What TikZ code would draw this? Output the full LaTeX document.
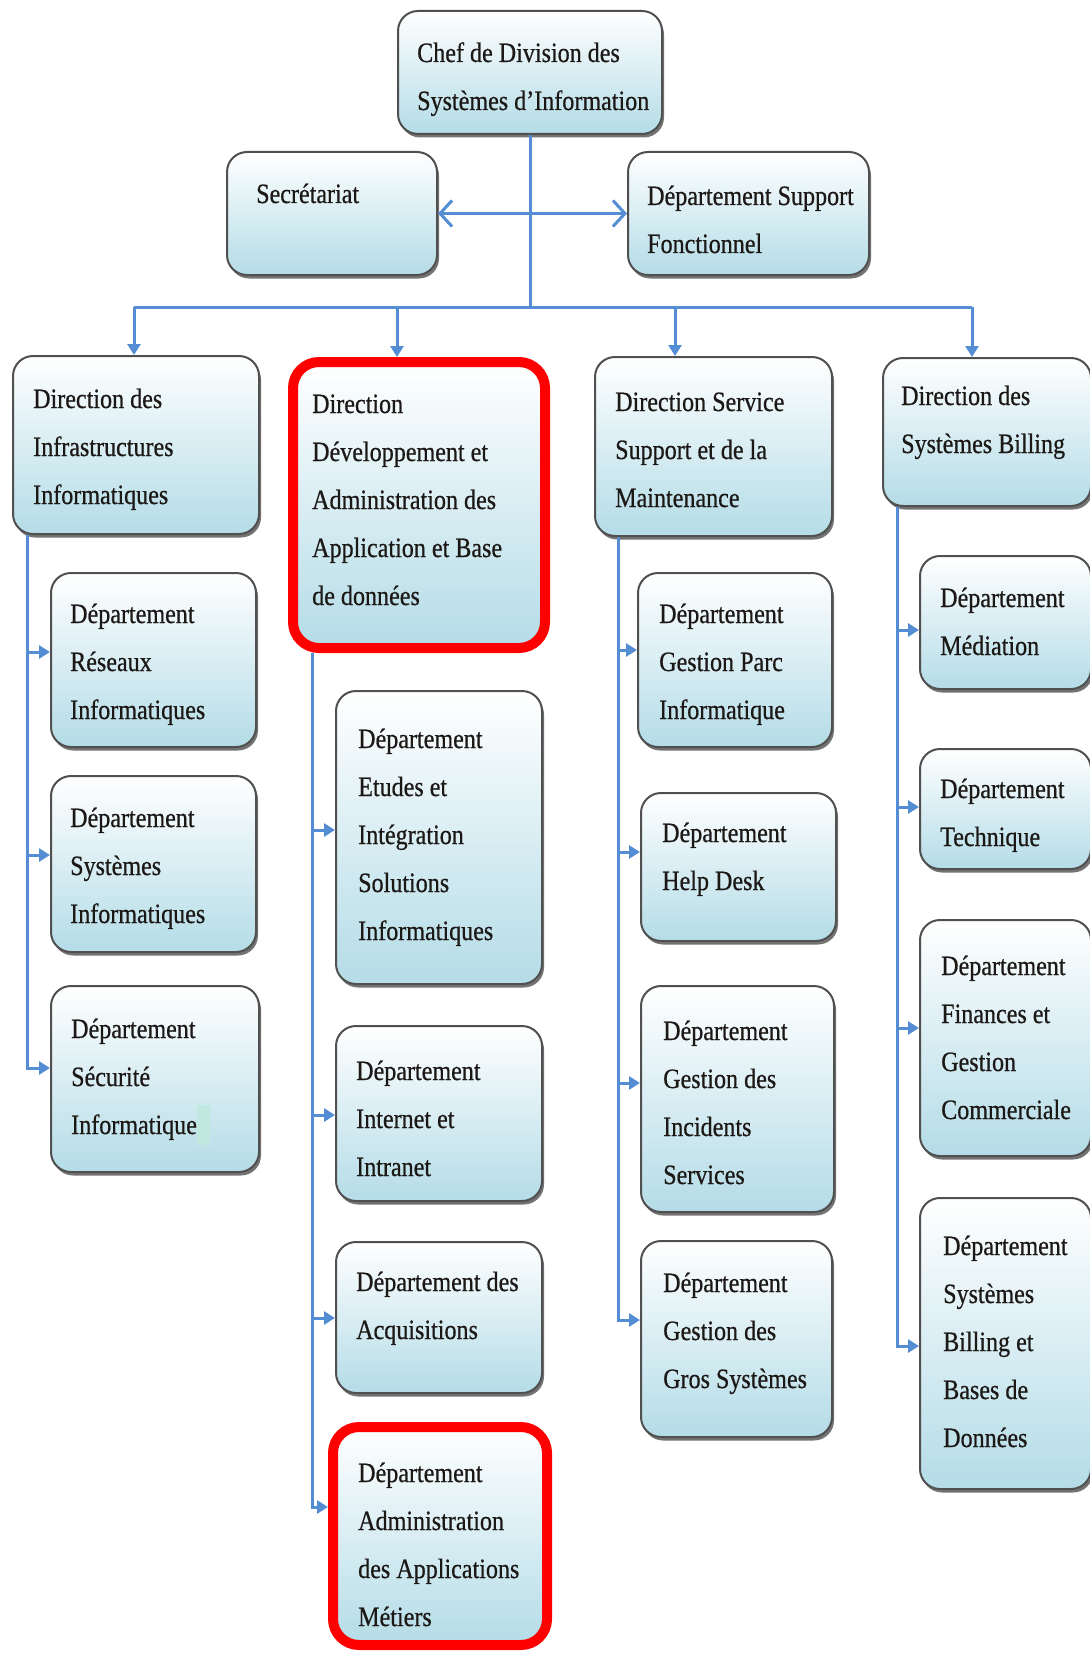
\documentclass[tikz,border=0pt]{standalone}
\usepackage{fontspec}
\setmainfont{Liberation Serif}[FakeStretch=0.86,FakeBold=0.6]
\usetikzlibrary{arrows.meta,shadows,calc}

\definecolor{linkblue}{RGB}{84,141,212}
\definecolor{boxblue}{RGB}{180,220,231}
\definecolor{boxedge}{RGB}{80,80,80}
\definecolor{hilite}{RGB}{192,232,222}
\definecolor{ink}{RGB}{28,24,22}

\tikzset{
  orgbox/.style={rectangle, rounded corners=20pt, draw=boxedge, line width=2pt,
    top color=white, bottom color=boxblue, inner sep=0pt,
    drop shadow={shadow xshift=2pt, shadow yshift=-3.5pt, opacity=.55, fill=black}},
  keybox/.style={orgbox, draw=red, line width=10pt, rounded corners=26pt},
  boxtext/.style={inner sep=0pt, anchor=base west, text=ink, font=\fontsize{28pt}{48pt}\selectfont},
  wire/.style={draw=linkblue, line width=3pt},
  feed/.style={wire, -{Triangle[length=11pt,width=13pt]}},
  barb/.style={wire, {Straight Barb[length=12pt,width=26pt,line width=3pt]}-{Straight Barb[length=12pt,width=26pt,line width=3pt]}}
}

% #1 style, #2 name, #3 x, #4 y (outer top-left), #5 width, #6 height, #7 text offset, #8 text
\newcommand\orgunit[8]{%
  \node[#1, minimum width=#5pt, minimum height=#6pt, anchor=north west] (#2) at (#3,#4) {};
  \node[boxtext] (#2-t) at ($(#2.north west)+(#7)$) {\parbox[t]{320pt}{\raggedright #8}};
}

\begin{document}
\begin{tikzpicture}[x=1pt,y=-1pt]
\useasboundingbox (0,0) rectangle (1089,1653);
\fill[white] (0,0) rectangle (1089,1653);

% top level
\orgunit{orgbox}{chef}{397}{10}{264}{123}{20,52}{Chef de Division des\\Systèmes d’Information}
\orgunit{orgbox}{secr}{226}{151}{210}{123}{30,52}{Secrétariat}
\orgunit{orgbox}{supp}{627}{151}{241}{123}{20,54}{Département Support\\Fonctionnel}

% directions
\orgunit{orgbox}{infra}{12}{355}{246}{178}{21,53}{Direction des\\Infrastructures\\Informatiques}
\orgunit{keybox}{devadm}{288}{357}{252}{286}{24,56}{Direction\\Développement et\\Administration des\\Application et Base\\de données}
\orgunit{orgbox}{servsup}{594}{356}{237}{179}{21,55}{Direction Service\\Support et de la\\Maintenance}
\orgunit{orgbox}{billing}{882}{357}{208}{148}{19,48}{Direction des\\Systèmes Billing}

% departments under infrastructures
\orgunit{orgbox}{reseaux}{50}{572}{205}{174}{20,51}{Département\\Réseaux\\Informatiques}
\orgunit{orgbox}{sysinfo}{50}{775}{205}{176}{20,52}{Département\\Systèmes\\Informatiques}
\orgunit{orgbox}{secu}{50}{985}{208}{186}{21,53}{Département\\Sécurité\\Informatique}
\fill[hilite] (197,1105) rectangle (210,1145);

% departments under development and administration
\orgunit{orgbox}{etudes}{335}{690}{206}{293}{23,58}{Département\\Etudes et\\Intégration\\Solutions\\Informatiques}
\orgunit{orgbox}{internet}{335}{1025}{206}{175}{21,55}{Département\\Internet et\\Intranet}
\orgunit{orgbox}{acq}{335}{1241}{206}{151}{21,50}{Département des\\Acquisitions}
\orgunit{keybox}{metiers}{328}{1422}{214}{218}{30,60}{Département\\Administration\\des Applications\\Métiers}

% departments under service support
\orgunit{orgbox}{parc}{637}{572}{194}{174}{22,51}{Département\\Gestion Parc\\Informatique}
\orgunit{orgbox}{helpdesk}{640}{792}{195}{148}{22,50}{Département\\Help Desk}
\orgunit{orgbox}{incidents}{640}{985}{193}{226}{23,55}{Département\\Gestion des\\Incidents\\Services}
\orgunit{orgbox}{gros}{640}{1240}{191}{196}{23,52}{Département\\Gestion des\\Gros Systèmes}

% departments under billing
\orgunit{orgbox}{mediation}{919}{555}{171}{133}{21,52}{Département\\Médiation}
\orgunit{orgbox}{technique}{919}{748}{171}{120}{21,50}{Département\\Technique}
\orgunit{orgbox}{finances}{919}{919}{171}{236}{22,56}{Département\\Finances et\\Gestion\\Commerciale}
\orgunit{orgbox}{sysbill}{919}{1197}{171}{291}{24,58}{Département\\Systèmes\\Billing et\\Bases de\\Données}

% top connectors
\coordinate (hub) at (chef.south |- 0,307);
\draw[wire] (chef.south) -- (hub);
\draw[barb] (secr.east) -- (supp.west);

\coordinate (busA) at (134,307);
\coordinate (busB) at (397,307);
\coordinate (busC) at (675,307);
\coordinate (busD) at (972,307);
\draw[wire] (busA) -- (busD);
\draw[feed] (busA) -- (busA |- infra.north);
\draw[feed] (busB) -- (busB |- devadm.north);
\draw[feed] (busC) -- (busC |- servsup.north);
\draw[feed] (busD) -- (busD |- billing.north);

% side trunks
\coordinate (trunkA) at (infra.south -| 27,0);
\draw[feed] (trunkA) |- (reseaux.west |- 0,652);
\draw[feed] (trunkA) |- (sysinfo.west |- 0,855);
\draw[feed] (trunkA) |- (secu.west |- 0,1068);

\coordinate (trunkB) at (devadm.south -| 312,0);
\draw[feed] (trunkB) |- (etudes.west |- 0,830);
\draw[feed] (trunkB) |- (internet.west |- 0,1115);
\draw[feed] (trunkB) |- (acq.west |- 0,1318);
\draw[feed] (trunkB) |- (metiers.west |- 0,1507);

\coordinate (trunkC) at (servsup.south -| 618,0);
\draw[feed] (trunkC) |- (parc.west |- 0,650);
\draw[feed] (trunkC) |- (helpdesk.west |- 0,852);
\draw[feed] (trunkC) |- (incidents.west |- 0,1083);
\draw[feed] (trunkC) |- (gros.west |- 0,1320);

\coordinate (trunkD) at (billing.south -| 897,0);
\draw[feed] (trunkD) |- (mediation.west |- 0,630);
\draw[feed] (trunkD) |- (technique.west |- 0,807);
\draw[feed] (trunkD) |- (finances.west |- 0,1028);
\draw[feed] (trunkD) |- (sysbill.west |- 0,1346);
\end{tikzpicture}
\end{document}
